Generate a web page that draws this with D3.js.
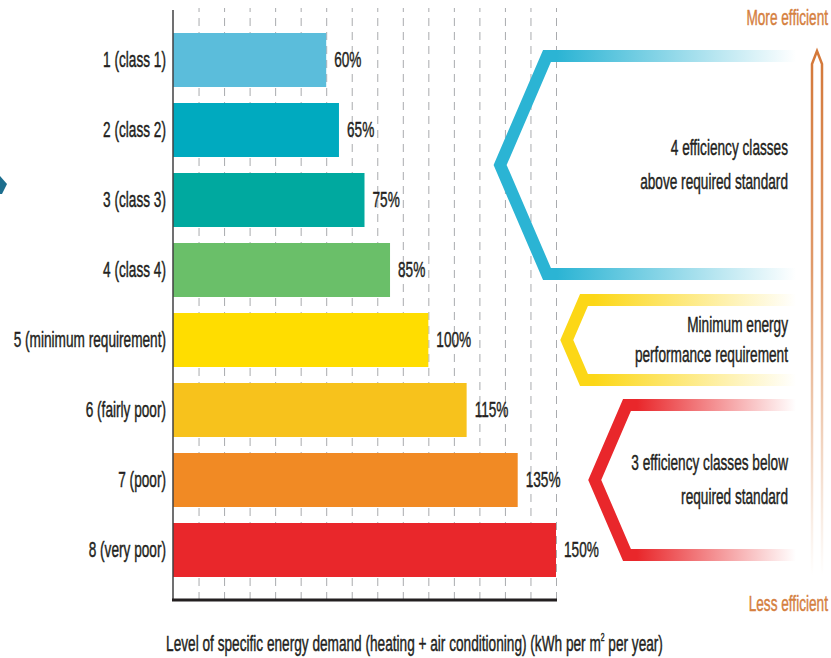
<!DOCTYPE html>
<html>
<head>
<meta charset="utf-8">
<script src="https://cdn.jsdelivr.net/npm/d3@7"></script>
<style>
  html, body { margin: 0; padding: 0; background: #ffffff; }
  svg { display: block; }
  text { font-family: "Liberation Sans Narrow", "Liberation Sans", Arial, sans-serif; fill: #231f20; }
</style>
</head>
<body>
<svg id="chart" width="831" height="658"></svg>
<script>
// Energy efficiency classes and their specific energy demand relative to the minimum requirement (%)
const categories = [
  "1 (class 1)",
  "2 (class 2)",
  "3 (class 3)",
  "4 (class 4)",
  "5 (minimum requirement)",
  "6 (fairly poor)",
  "7 (poor)",
  "8 (very poor)"
];
const values = [60, 65, 75, 85, 100, 115, 135, 150];
const barColors = ["#5bbddb", "#00aabf", "#00a99f", "#6abf69", "#ffdd00", "#f7c21c", "#f18a24", "#e9272b"];

// Bracketed groups of classes (first and last index into categories)
const groupRanges = [[0, 3], [4, 4], [5, 7]];
const groupLines = [
  ["4 efficiency classes", "above required standard"],
  ["Minimum energy", "performance requirement"],
  ["3 efficiency classes below", "required standard"]
];
const groupColors = ["#2bb4d4", "#fcd716", "#e9272b"];

const scaleEnds = ["More efficient", "Less efficient"];
const axisTitle = ["Level of specific energy demand (heating + air conditioning) (kWh per m", "2", " per year)"];

// ---------------------------------------------------------------
const svg = d3.select("#chart");
const FS = 22;          // base font size
const SX = 0.62;        // horizontal condensing of all lettering
const textColor = "#231f20";

const x = d3.scaleLinear().domain([0, 150]).range([173, 556]);
const y = d3.scaleBand()
  .domain(categories)
  .range([25, 585])
  .paddingInner(16 / 70)
  .paddingOuter(8 / 70);
const bw = y.bandwidth();
const baseY = 600;

// condensed lettering, slightly emboldened with a thin outline
function styleText(sel, color) {
  return sel
    .attr("font-size", FS)
    .style("fill", color || textColor)
    .style("stroke", color || textColor)
    .style("stroke-width", 0.45)
    .style("paint-order", "stroke");
}
function label(parent, tx, ty, str, anchor, color) {
  return styleText(parent.append("text")
    .attr("transform", `translate(${tx},${ty}) scale(${SX},1)`)
    .attr("text-anchor", anchor)
    .text(str), color);
}

const defs = svg.append("defs");

// dashed vertical grid
const grid = svg.append("g")
  .attr("transform", `translate(0,${baseY})`)
  .call(d3.axisBottom(x).tickValues(d3.range(10, 151, 10)).tickSize(-(baseY - 8)).tickFormat(""));
grid.select(".domain").remove();
grid.selectAll(".tick line")
  .attr("stroke", "#a9abae")
  .attr("stroke-width", 1)
  .attr("stroke-dasharray", "8,6");

// bars
svg.append("g").selectAll("rect")
  .data(values)
  .join("rect")
  .attr("x", x(0))
  .attr("y", (d, i) => y(categories[i]))
  .attr("width", d => x(d) - x(0))
  .attr("height", bw)
  .attr("fill", (d, i) => barColors[i]);

// value labels
const valG = svg.append("g");
values.forEach((v, i) => {
  label(valG, x(v) + 8, y(categories[i]) + bw / 2 + 7, v + "%", "start");
});

// category axis (labels only)
const yAxis = svg.append("g")
  .attr("transform", `translate(${x(0)},0)`)
  .call(d3.axisLeft(y).tickSize(0).tickPadding(7));
yAxis.select(".domain").remove();
yAxis.selectAll(".tick text")
  .attr("font-family", null)
  .attr("x", null)
  .attr("dy", null)
  .attr("transform", `translate(-7,7) scale(${SX},1)`)
  .call(styleText);

// axis lines
svg.append("line")
  .attr("x1", x(0)).attr("x2", x(0))
  .attr("y1", 10).attr("y2", baseY)
  .attr("stroke", "#414042").attr("stroke-width", 1.5);
svg.append("line")
  .attr("x1", x(0) - 1).attr("x2", x(150) + 1)
  .attr("y1", baseY).attr("y2", baseY)
  .attr("stroke", "#231f20").attr("stroke-width", 3);

// axis title with superscript
const title = styleText(svg.append("text")
  .attr("transform", `translate(${(161 + 668) / 2},651) scale(${SX},1)`)
  .attr("text-anchor", "middle"));
title.append("tspan").text(axisTitle[0]);
title.append("tspan").attr("font-size", FS * 0.5).attr("dy", -10).text(axisTitle[1]);
title.append("tspan").attr("dy", 10).text(axisTitle[2]);

// group brackets: chevron outlines fading out to the right
const rightEnd = 796;
const bracketPad = [4, 40, 5];
const cornerX = [547, 584, 627];
groupRanges.forEach(([a, b], i) => {
  const top = y(categories[a]) + bw / 2 - bracketPad[i];
  const bottom = y(categories[b]) + bw / 2 + bracketPad[i];
  const mid = (top + bottom) / 2;
  const tip = cornerX[i] - (bottom - top) / 2 * 0.43;

  const gid = "bracketFade" + i;
  const g = defs.append("linearGradient")
    .attr("id", gid)
    .attr("gradientUnits", "userSpaceOnUse")
    .attr("x1", cornerX[i] + 10).attr("x2", rightEnd)
    .attr("y1", 0).attr("y2", 0);
  g.append("stop").attr("offset", 0).attr("stop-color", groupColors[i]);
  g.append("stop").attr("offset", 1).attr("stop-color", "#ffffff");

  svg.append("path")
    .attr("d", `M${rightEnd},${top}L${cornerX[i]},${top}L${tip},${mid}L${cornerX[i]},${bottom}L${rightEnd},${bottom}`)
    .attr("fill", "none")
    .attr("stroke", `url(#${gid})`)
    .attr("stroke-width", 12)
    .attr("stroke-linejoin", "miter");

  const lh = i === 1 ? 30 : 34;
  groupLines[i].forEach((t, k) => {
    label(svg, 788, mid + 7 - lh / 2 + k * lh, t, "end");
  });
});

// efficiency direction arrow
const ag = defs.append("linearGradient")
  .attr("id", "arrowFade")
  .attr("gradientUnits", "userSpaceOnUse")
  .attr("x1", 0).attr("x2", 0).attr("y1", 60).attr("y2", 575);
ag.append("stop").attr("offset", 0).attr("stop-color", "#d4793b");
ag.append("stop").attr("offset", 0.4).attr("stop-color", "#e09a6a");
ag.append("stop").attr("offset", 1).attr("stop-color", "#ffffff");
svg.append("path")
  .attr("d", "M812,575L812,64L817,51L822,64L822,575")
  .attr("fill", "none")
  .attr("stroke", "url(#arrowFade)")
  .attr("stroke-width", 2.5)
  .attr("stroke-linejoin", "miter");

label(svg, 828, 25, scaleEnds[0], "end", "#d5803f");
label(svg, 828, 611, scaleEnds[1], "end", "#d5803f");

// edge of a neighbouring arrow
svg.append("path")
  .attr("d", "M0,176L7,184L2,194L0,194Z")
  .attr("fill", "#1d6e8e");
</script>
</body>
</html>
